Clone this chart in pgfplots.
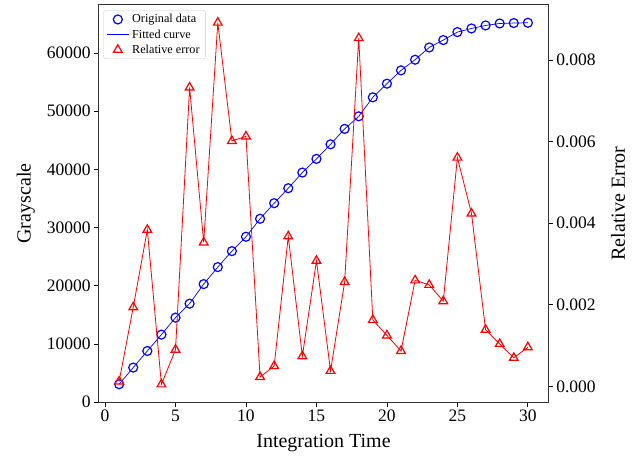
\documentclass[border=0pt]{standalone}
\usepackage{pgfplots}
\usepackage{pgfplotstable}
\pgfplotsset{compat=1.18}
\usepackage{fontspec}
\setmainfont{Liberation Serif}

\pgfplotsset{
  markleg/.style={legend image code/.code={\draw[##1, only marks] plot coordinates {(11pt,0pt)};}},
  lineleg/.style={legend image code/.code={\draw[##1] (0pt,0pt) -- (22pt,0pt);}},
}

\pgfplotstableread{
x gray
1 3090
2 5950
3 8800
4 11610
5 14530
6 16930
7 20290
8 23210
9 25950
10 28420
11 31510
12 34190
13 36760
14 39450
15 41800
16 44300
17 46950
18 49110
19 52370
20 54720
21 57000
22 58830
23 60940
24 62210
25 63580
26 64200
27 64720
28 65060
29 65130
30 65180
}\graydata

\pgfplotstableread{
x err
1 0.00012
2 0.00194
3 0.00384
4 0.00005
5 0.00090
6 0.00733
7 0.00353
8 0.00892
9 0.00602
10 0.00613
11 0.00023
12 0.00050
13 0.00368
14 0.00074
15 0.00308
16 0.00038
17 0.00256
18 0.00854
19 0.00163
20 0.00125
21 0.00087
22 0.00260
23 0.00249
24 0.00209
25 0.00561
26 0.00424
27 0.00139
28 0.00104
29 0.00070
30 0.00096
}\errdata

\begin{document}
\begin{tikzpicture}
\useasboundingbox (-98.7pt,-57.7pt) rectangle (542.3pt,402.3pt);
\pgfplotsset{
  every axis/.append style={
    scale only axis, width=449.6pt, height=397.6pt,
    at={(0,0)}, anchor=south west,
    xmin=-0.45, xmax=31.45,
    tick align=outside, major tick length=4.5pt,
    tick style={black, line width=0.8pt},
    axis line style={line width=0.8pt, black!80},
    tick label style={font=\fontsize{17.5}{20}\selectfont},
    label style={font=\fontsize{20}{24}\selectfont},
    /pgf/number format/assume math mode=true,
    scaled ticks=false,
  }
}
\begin{axis}[
  ymin=-15, ymax=68285,
  xtick={0,5,10,15,20,25,30},
  ytick={0,10000,20000,30000,40000,50000,60000},
  xtick pos=left, ytick pos=left,
  yticklabel style={/pgf/number format/1000 sep={}},
  xlabel={Integration Time},
  ylabel={Grayscale},
  xlabel style={at={(axis description cs:0.5,-0.103)}, anchor=center},
  ylabel style={at={(axis description cs:-0.162,0.5)}, anchor=center},
]
\addplot[blue, line width=0.7pt] table[x=x, y=gray] {\graydata};
\addplot[blue, only marks, mark=o, mark size=4.5pt, mark options={line width=1.2pt}] table[x=x, y=gray] {\graydata};
\end{axis}
\begin{axis}[
  ymin=-0.00039, ymax=0.00936,
  hide x axis,
  axis y line*=right,
  ytick={0,0.002,0.004,0.006,0.008},
  yticklabel style={/pgf/number format/fixed, /pgf/number format/fixed zerofill, /pgf/number format/precision=3},
  ylabel={Relative Error},
  ylabel style={at={(axis description cs:1.155,0.5)}, anchor=center},
  legend style={at={(0.0102,0.986)}, anchor=north west, draw=black!20, rounded corners=2.5pt,
    font=\fontsize{12.2}{14}\selectfont, inner xsep=3pt, inner ysep=2pt, row sep=1.2pt,
    nodes={inner xsep=3pt}},
  legend cell align=left,
]
\addlegendimage{blue, mark=o, mark size=4.5pt, mark options={line width=1.2pt}, markleg}
\addlegendentry{Original data}
\addlegendimage{blue, line width=0.7pt, lineleg}
\addlegendentry{Fitted curve}
\addlegendimage{red, mark=triangle, mark size=5pt, mark options={line width=1.2pt, solid}, markleg}
\addlegendentry{Relative error}
\addplot[red, line width=0.8pt, mark=triangle, mark size=5pt, mark options={line width=1.2pt, solid}, forget plot] table[x=x, y=err] {\errdata};
\end{axis}
\end{tikzpicture}
\end{document}
